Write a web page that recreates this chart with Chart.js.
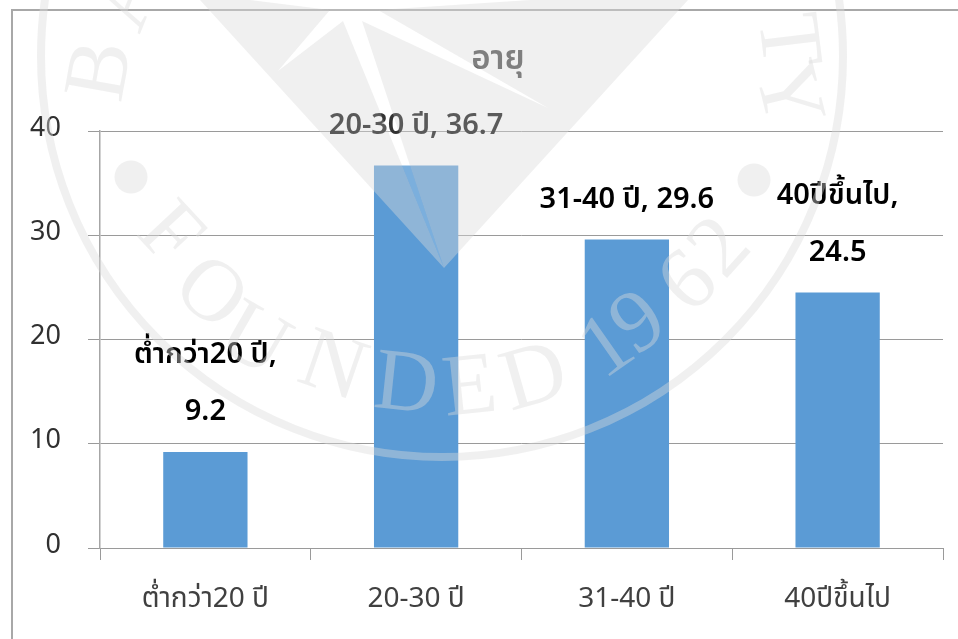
<!DOCTYPE html>
<html><head><meta charset="utf-8">
<style>html,body{margin:0;padding:0;background:#fff}#w{width:958px;height:639px;position:relative}</style>
<script src="https://cdn.jsdelivr.net/npm/chart.js@4/dist/chart.umd.min.js"></script>
</head><body><div id="w"><canvas id="c" width="958" height="639"></canvas></div>
<script>
const chartTitle = "อายุ";
const categories = ["ต่ำกว่า20 ปี", "20-30 ปี", "31-40 ปี", "40ปีขึ้นไป"];
const values = [9.2, 36.7, 29.6, 24.5];
const yTicks = [0, 10, 20, 30, 40];
const dataLabelLines = [["ต่ำกว่า20 ปี,", "9.2"], ["20-30 ปี, 36.7"], ["31-40 ปี, 29.6"], ["40ปีขึ้นไป,", "24.5"]];

const THAI = '"Noto Sans", "Noto Sans Thai", "Noto Sans CJK SC", "DejaVu Sans", sans-serif';
const GREY = 'rgba(218,218,218,0.41)';

const frame = { id:'frame', beforeDraw(ch){ const c=ch.ctx; c.save();
  c.fillStyle='#fff'; c.fillRect(0,0,958,639);
  c.strokeStyle='#a8a8a8'; c.lineWidth=2; c.beginPath(); c.moveTo(12,639); c.lineTo(12,10); c.lineTo(958,10); c.stroke();
  c.restore(); } };

const texts = { id:'texts', afterDatasetsDraw(ch){ const c=ch.ctx, m=ch.getDatasetMeta(0); c.save();
  c.textAlign='center'; c.textBaseline='middle';
  c.fillStyle='#404040'; c.font='600 33px '+THAI; c.fillText(chartTitle,498,60);
  c.fillStyle='#000'; c.font='600 29px '+THAI;
  m.data.forEach((b,i)=>{ const L=dataLabelLines[i];
    L.forEach((t,j)=>c.fillText(t,b.x,b.y-40-(L.length-1-j)*57)); });
  c.restore(); } };

const seal = { id:'seal', afterDraw(ch){ const c=ch.ctx, cx=442, cy=56; c.save();
  c.fillStyle=GREY; c.strokeStyle=GREY;
  c.beginPath(); c.arc(cx,cy,401,0,Math.PI*2); c.lineWidth=8; c.stroke();
  const star=[[444,268],[362,21],[548,108],[378,10],[530,0],[250,0],[330,10],[278,71],[343,21]];
  const trace=()=>star.forEach((q,i)=>i?c.lineTo(q[0],q[1]):c.moveTo(q[0],q[1]));
  c.beginPath();
  c.moveTo(444,268); c.lineTo(200,0); c.lineTo(688,0); c.closePath();
  trace(); c.closePath();
  c.fill('evenodd');
  c.fillStyle='rgba(255,255,255,0.2)'; c.beginPath(); trace(); c.closePath(); c.fill();
  c.fillStyle=GREY;
  [[131,177],[754,180]].forEach(p=>{ c.beginPath(); c.arc(p[0],p[1],16.5,0,Math.PI*2); c.fill(); });
  c.font='88px "Liberation Serif", serif'; c.textAlign='center'; c.textBaseline='middle';
  const place=(s,x,y,r)=>{ c.save(); c.translate(x,y); c.rotate(r*Math.PI/180); c.fillText(s,0,0); c.restore(); };
  [["F",168,236,47],["O",209,295,40],["U",253,342,30],["N",332,369,19],["D",406,387,6],["E",470,390,-6],["D",535,380,-16],
   ["1",608,349,-35],["9",640,325,-35],["6",690,284,-42],["2",722,249,-48]].forEach(a=>place(...a));
  [["B",103,71,-80],["A",130,-3,-68],["T",785,41,83],["Y",785,95,76]].forEach(a=>place(...a));
  c.restore(); } };

new Chart(document.getElementById('c'), {
  type:'bar',
  data:{ labels:categories, datasets:[{ data:values, backgroundColor:'#5b9bd5', borderWidth:0, barPercentage:0.4, categoryPercentage:1 }] },
  plugins:[frame,texts,seal],
  options:{ responsive:false, animation:false, devicePixelRatio:1,
    layout:{ padding:{ left:0, right:15, top:131, bottom:0 } },
    plugins:{ legend:{display:false}, tooltip:{enabled:false}, title:{display:false} },
    scales:{
      x:{ afterFit(s){ s.height=91; },
        grid:{ offset:true, drawOnChartArea:false, drawTicks:true, tickLength:12, color:'#9a9a9a', lineWidth:1 },
        border:{ display:true, color:'#9a9a9a', width:1 },
        ticks:{ padding:22, color:'#404040', font:{ family:THAI, size:28 }, maxRotation:0, autoSkip:false } },
      y:{ min:0, max:40, afterFit(s){ s.width=100; },
        afterBuildTicks(s){ s.ticks = yTicks.map(v=>({value:v})); },
        grid:{ drawTicks:true, tickLength:12, color:'#9a9a9a', lineWidth:1 },
        border:{ display:true, color:'#a6a6a6', width:1.5 },
        ticks:{ padding:27, labelOffset:-3, color:'#303030', font:{ family:THAI, size:27 } } }
    } }
});
</script></body></html>
